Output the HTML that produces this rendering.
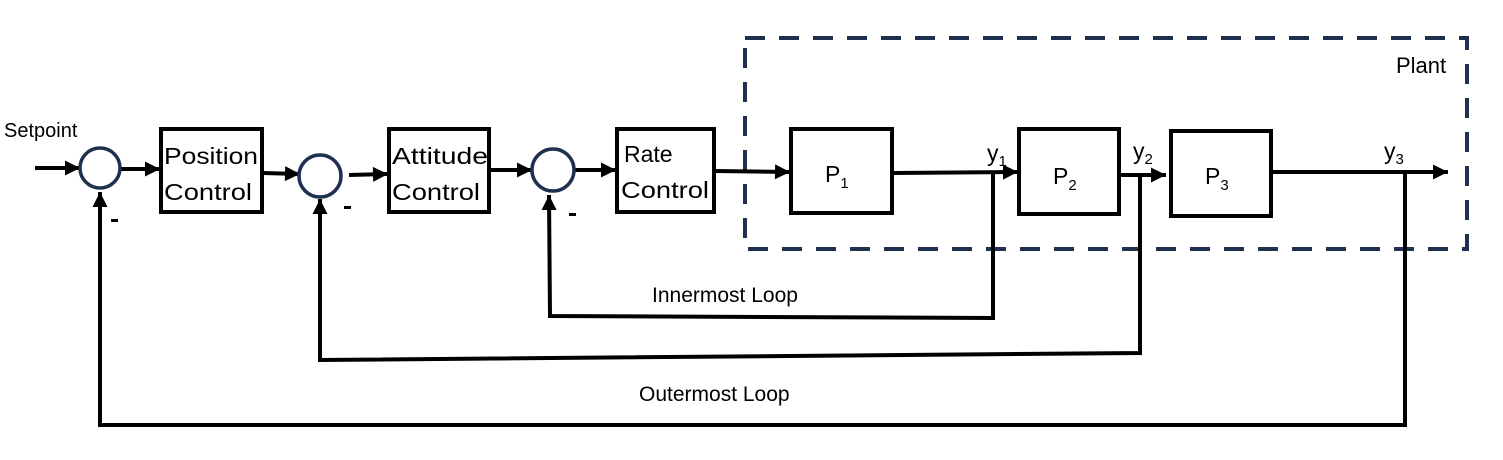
<!DOCTYPE html>
<html><head><meta charset="utf-8"><style>
html,body{margin:0;padding:0;background:#fff;}
svg{display:block;}
text{font-family:"Liberation Sans",sans-serif;font-size:21px;fill:#000;}
.bx{font-size:23px;}
</style></head><body>
<svg width="1503" height="460" viewBox="0 0 1503 460" xmlns="http://www.w3.org/2000/svg">
<defs>
<marker id="b" viewBox="0 0 10 10" markerWidth="18" markerHeight="15" refX="10" refY="5" orient="auto" markerUnits="userSpaceOnUse">
<path d="M0,0 L10,5 L0,10 Z" fill="#000"/>
</marker>
</defs>
<rect x="745" y="38" width="722" height="211" fill="none" stroke="#1f3050" stroke-width="4" stroke-dasharray="20,14"/>
<text x="1396" y="73" style="font-size:22px">Plant</text>
<text x="4" y="137" style="font-size:20px">Setpoint</text>
<g stroke="#000" stroke-width="4" fill="none">
<line x1="35" y1="168" x2="80" y2="168" marker-end="url(#b)"/>
<line x1="121" y1="169" x2="160" y2="169" marker-end="url(#b)"/>
<line x1="263" y1="173" x2="300" y2="174" marker-end="url(#b)"/>
<line x1="349" y1="175" x2="388" y2="174" marker-end="url(#b)"/>
<line x1="490" y1="170" x2="532" y2="170" marker-end="url(#b)"/>
<line x1="574" y1="170" x2="616" y2="170" marker-end="url(#b)"/>
<line x1="715" y1="171" x2="790" y2="172" marker-end="url(#b)"/>
<line x1="893" y1="173" x2="1018" y2="172" marker-end="url(#b)"/>
<line x1="1120" y1="175" x2="1166" y2="175" marker-end="url(#b)"/>
<line x1="1272" y1="172" x2="1448" y2="172" marker-end="url(#b)"/>
<polyline points="993,172 993,318 550,316 549,195" marker-end="url(#b)"/>
<polyline points="1140,176 1140,353 320,360 320,199" marker-end="url(#b)"/>
<polyline points="1405,172 1405,425 100,425 100,192" marker-end="url(#b)"/>
<rect x="161" y="129" width="101" height="83"/>
<rect x="389" y="129" width="100" height="83"/>
<rect x="617" y="129" width="97" height="83"/>
<rect x="791" y="129" width="101" height="84"/>
<rect x="1019" y="129" width="100" height="85"/>
<rect x="1171" y="131" width="100" height="85"/>
</g>
<g stroke="#1f3050" stroke-width="3.5" fill="#fff">
<circle cx="100" cy="168" r="20"/>
<circle cx="320" cy="176" r="21"/>
<circle cx="553" cy="170" r="21"/>
</g>
<text class="bx" x="164" y="164" textLength="94" lengthAdjust="spacingAndGlyphs">Position</text>
<text class="bx" x="164" y="200" textLength="88" lengthAdjust="spacingAndGlyphs">Control</text>
<text class="bx" x="392" y="164" textLength="96" lengthAdjust="spacingAndGlyphs">Attitude</text>
<text class="bx" x="392" y="200" textLength="88" lengthAdjust="spacingAndGlyphs">Control</text>
<text class="bx" x="624" y="162">Rate</text>
<text class="bx" x="621" y="198" textLength="88" lengthAdjust="spacingAndGlyphs">Control</text>
<text class="bx" x="825" y="182">P<tspan style="font-size:15px" dy="6">1</tspan></text>
<text class="bx" x="1053" y="184">P<tspan style="font-size:15px" dy="6">2</tspan></text>
<text class="bx" x="1205" y="184">P<tspan style="font-size:15px" dy="6">3</tspan></text>
<text class="bx" x="987" y="161">y<tspan style="font-size:15px" dy="5">1</tspan></text>
<text class="bx" x="1133" y="159">y<tspan style="font-size:15px" dy="5">2</tspan></text>
<text class="bx" x="1384" y="159">y<tspan style="font-size:15px" dy="5">3</tspan></text>
<g fill="#000">
<rect x="111" y="219" width="7" height="3"/>
<rect x="344" y="206" width="7" height="3"/>
<rect x="569" y="213" width="7" height="3"/>
</g>
<text x="652" y="302">Innermost Loop</text>
<text x="639" y="401">Outermost Loop</text>
</svg>
</body></html>
